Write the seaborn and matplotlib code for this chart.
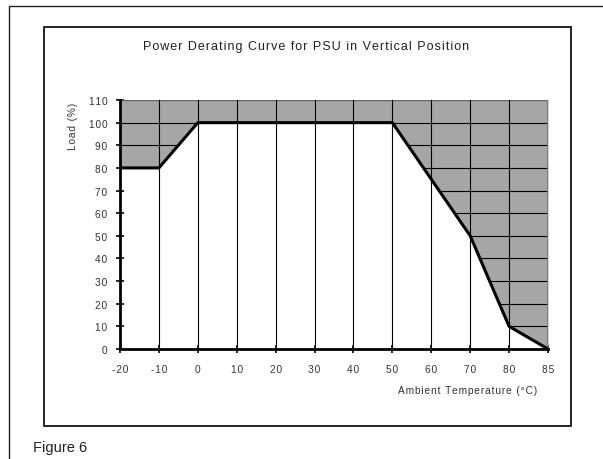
import numpy as np
import pandas as pd
import matplotlib
matplotlib.use("Agg")
import matplotlib.pyplot as plt
import matplotlib.patches as patches
import seaborn as sns

# Data
temp_labels = ["-20", "-10", "0", "10", "20", "30", "40", "50", "60", "70", "80", "85"]
load_pct = [80, 80, 100, 100, 100, 100, 100, 100, 75, 50, 10, 0]
y_ticks = [0, 10, 20, 30, 40, 50, 60, 70, 80, 90, 100, 110]

df = pd.DataFrame({"pos": np.arange(len(temp_labels)), "load": load_pct})


def spaced(s):
    # the original uses letter-spaced text
    return "\u200a".join(s)


sns.set_style("white")
plt.rcParams['font.family'] = ['Liberation Sans', 'DejaVu Sans']

fig = plt.figure(figsize=(6.03, 4.60), dpi=100)
W, H = 603, 460
ax = fig.add_axes([120 / W, 1 - 350 / H, 428 / W, 249 / H])

# outer frame and inner chart box
fig.patches.append(patches.Rectangle((9 / W, -0.05), 1.2, 1 - 7 / H + 0.05, transform=fig.transFigure,
                                     fill=False, edgecolor="#222222", lw=1.0))
fig.patches.append(patches.Rectangle((44 / W, 1 - 427 / H), 527 / W, 399 / H, transform=fig.transFigure,
                                     fill=False, edgecolor="black", lw=1.2))

# grey area above the curve
fill = ax.fill_between(df["pos"], df["load"], 110, color="#a6a6a6", lw=0, zorder=1)

# horizontal grid only inside the grey area
for y in y_ticks[1:-1]:
    ln = ax.axhline(y, color="black", lw=0.8, zorder=2)
    ln.set_clip_path(fill.get_paths()[0], fill.get_transform())
ax.axhline(110, color="#666666", lw=1.0, zorder=2)

# vertical grid everywhere
for x in df["pos"][1:-1]:
    ax.axvline(x, color="black", lw=0.8, zorder=2)
ax.axvline(len(temp_labels) - 1, color="#777777", lw=1.2, zorder=2)

sns.lineplot(data=df, x="pos", y="load", color="black", lw=2.2, ax=ax, zorder=4)

ax.set_xlim(0, len(temp_labels) - 1)
ax.set_ylim(0, 110)
ax.set_xticks(df["pos"])
ax.set_xticklabels([spaced(t) for t in temp_labels])
ax.set_yticks(y_ticks)
ax.set_yticklabels([spaced(str(t)) for t in y_ticks])
ax.tick_params(direction="inout", length=6, width=1.2, color="black", labelsize=7.3,
               labelcolor="#333333", pad=6, left=True, bottom=True)
ax.tick_params(axis="x", pad=8)

for s in ["top", "right"]:
    ax.spines[s].set_visible(False)
for s in ["left", "bottom"]:
    ax.spines[s].set_color("black")
    ax.spines[s].set_linewidth(2.0)
    ax.spines[s].set_zorder(5)

ax.set_xlabel("")
ax.set_ylabel("")

fig.text(306 / W, 1 - 47 / H, spaced("Power Derating Curve for PSU in Vertical Position"),
         ha="center", va="center", fontsize=9, color="#222222")
fig.text(73 / W, 1 - 126 / H, spaced("Load (%)"), rotation=90, ha="center", va="center",
         fontsize=7.3, color="#333333")
fig.text(537 / W, 1 - 391 / H, spaced("Ambient Temperature (°C)"), ha="right", va="center",
         fontsize=7.3, color="#333333")
fig.text(33 / W, 1 - 448 / H, "Figure 6", ha="left", va="center", fontsize=10.5, color="#222222")

fig.savefig("out.png", dpi=100)
